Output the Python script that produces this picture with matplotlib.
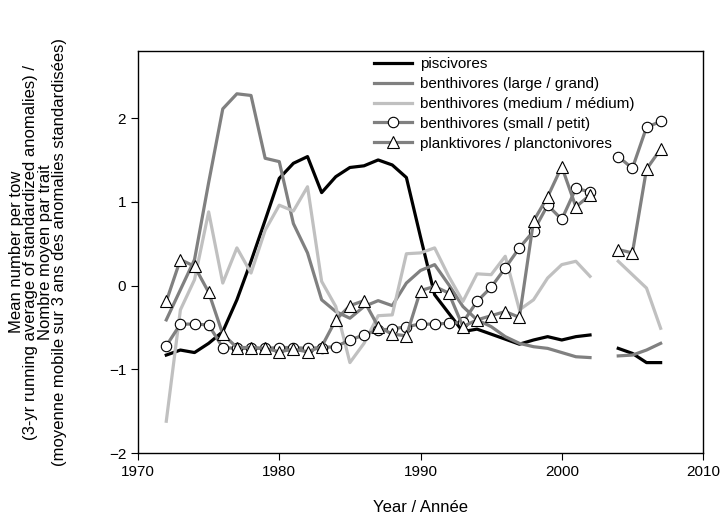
import numpy as np
import matplotlib.pyplot as plt

plt.rcParams['font.family'] = ['Liberation Sans', 'DejaVu Sans']

# years 1972-2007, no survey value for 2003 (gap in the lines)
years = list(range(1972, 2008))
nan = np.nan

piscivores = [-0.83, -0.77, -0.80, -0.69, -0.55, -0.17, 0.29, 0.78, 1.28, 1.46,
              1.54, 1.11, 1.30, 1.41, 1.43, 1.50, 1.44, 1.29, 0.58, -0.11,
              -0.33, -0.55, -0.52, -0.58, -0.64, -0.70, -0.65, -0.61, -0.65, -0.61,
              -0.59, nan, -0.75, -0.81, -0.92, -0.92]
benth_large = [-0.41, -0.05, 0.31, 1.23, 2.11, 2.29, 2.27, 1.52, 1.48, 0.74,
               0.39, -0.17, -0.31, -0.39, -0.25, -0.18, -0.24, 0.03, 0.18, 0.25,
               0.01, -0.25, -0.41, -0.49, -0.61, -0.69, -0.73, -0.75, -0.80, -0.85,
               -0.86, nan, -0.84, -0.83, -0.77, -0.69]
benth_medium = [-1.62, -0.29, 0.07, 0.88, 0.03, 0.45, 0.15, 0.66, 0.96, 0.89,
                1.18, 0.05, -0.25, -0.92, -0.69, -0.36, -0.35, 0.38, 0.39, 0.45,
                0.11, -0.19, 0.14, 0.13, 0.35, -0.29, -0.17, 0.09, 0.25, 0.29,
                0.11, nan, 0.29, 0.13, -0.03, -0.51]
benth_small = [-0.72, -0.46, -0.46, -0.47, -0.74, -0.75, -0.75, -0.75, -0.74, -0.74,
               -0.75, -0.74, -0.73, -0.65, -0.59, -0.53, -0.52, -0.49, -0.46, -0.46,
               -0.45, -0.44, -0.19, -0.02, 0.21, 0.45, 0.65, 0.96, 0.79, 1.16,
               1.12, nan, 1.54, 1.40, 1.89, 1.96]
planktivores = [-0.19, 0.31, 0.23, -0.08, -0.58, -0.74, -0.74, -0.75, -0.79, -0.76,
                -0.79, -0.73, -0.41, -0.24, -0.18, -0.49, -0.58, -0.60, -0.06, -0.01,
                -0.09, -0.49, -0.41, -0.36, -0.31, -0.38, 0.77, 1.06, 1.42, 0.94,
                1.08, nan, 0.43, 0.39, 1.39, 1.63]

labels = ["piscivores", "benthivores (large / grand)", "benthivores (medium / médium)",
          "benthivores (small / petit)", "planktivores / planctonivores"]

fig = plt.figure(figsize=(7.2, 5.16), dpi=100)
ax = fig.add_axes([0.1917, 0.122, 0.7847, 0.779])

lw = 2.3
ax.plot(years, piscivores, color='black', lw=lw, label=labels[0])
ax.plot(years, benth_large, color='#808080', lw=lw, label=labels[1])
ax.plot(years, benth_medium, color='#c0c0c0', lw=lw, label=labels[2])
ax.plot(years, benth_small, color='#808080', lw=lw, marker='o', ms=7.5,
        mfc='white', mec='black', mew=0.8, label=labels[3])
ax.plot(years, planktivores, color='#808080', lw=lw, marker='^', ms=8,
        mfc='white', mec='black', mew=0.8, label=labels[4])

ax.set_xlim(1970, 2010)
ax.set_ylim(-2, 2.8)
ax.set_xticks([1970, 1980, 1990, 2000, 2010])
ax.set_yticks([-2, -1, 0, 1, 2])
ax.tick_params(direction='out', length=5, labelsize=11, top=False, right=False)
for s in ax.spines.values():
    s.set_linewidth(1.0)

ax.set_xlabel("Year / Année", fontsize=12, labelpad=15)
ax.set_ylabel("Mean number per tow\n(3-yr running average of standardized anomalies) /\n"
              "Nombre moyen par trait\n(moyenne mobile sur 3 ans des anomalies standardisées)",
              fontsize=12, linespacing=0.95, labelpad=30)

ax.legend(loc='upper left', bbox_to_anchor=(0.398, 1.012), frameon=False,
          fontsize=11, handlelength=2.5, handletextpad=0.55,
          labelspacing=0.39, borderaxespad=0.3)

plt.savefig("out.png", dpi=100)
